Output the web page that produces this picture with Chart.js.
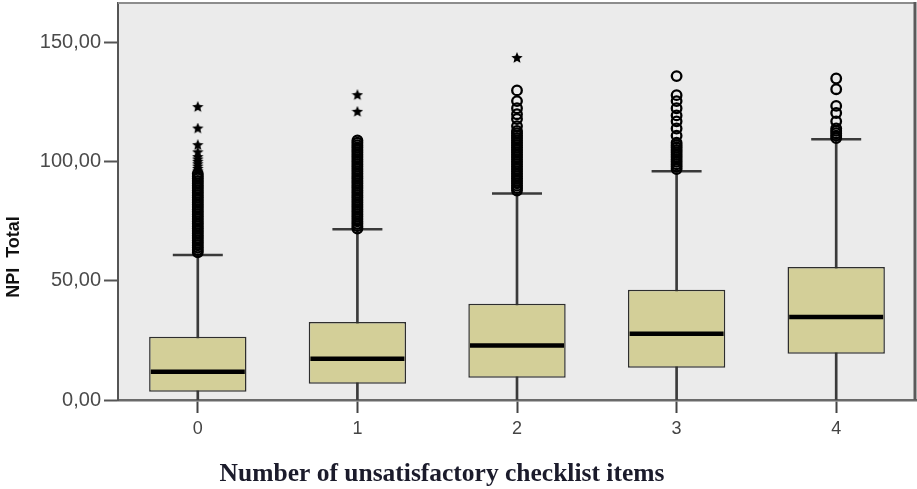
<!DOCTYPE html>
<html>
<head>
<meta charset="utf-8">
<script src="https://cdn.jsdelivr.net/npm/chart.js@4/dist/chart.umd.min.js"></script>
<style>
  html, body { margin: 0; padding: 0; background: #ffffff; }
  #c { display: block; }
</style>
</head>
<body>
<canvas id="c" width="917" height="489"></canvas>
<script>
// Number of unsatisfactory checklist items (x categories)
const categories = ['0', '1', '2', '3', '4'];
const yTicks = [0, 50, 100, 150];

// Five-number summaries of NPI Total per category
const whiskerLow  = [0, 0, 0, 0, 0];
const q1          = [3.5, 6.8, 9.3, 13.5, 19.4];
const median      = [11.9, 17.3, 22.9, 27.8, 34.8];
const q3          = [26.6, 32.7, 40.4, 46.3, 55.8];
const whiskerHigh = [60.9, 71.7, 86.7, 96.1, 109.5];

// Outliers (circles) and extreme values (stars) per category
const outliers0 = [62, 63, 64, 65, 66, 67, 68, 69, 70, 71, 72, 73, 74, 75, 76, 77, 78, 79, 80, 81, 82, 83, 84, 85, 86, 87, 88, 89, 90, 91, 92, 93, 94, 95];
const extremes0 = [96, 97, 98, 99, 100, 101, 102, 104, 107, 114, 123];
const outliers1 = [72, 73, 74, 75, 76, 77, 78, 79, 80, 81, 82, 83, 84, 85, 86, 87, 88, 89, 90, 91, 92, 93, 94, 95, 96, 97, 98, 99, 100, 101, 102, 103, 104, 105, 106, 107, 108, 109];
const extremes1 = [121, 128];
const outliers2 = [88, 89, 90, 91, 92, 93, 94, 95, 96, 97, 98, 99, 100, 101, 102, 103, 104, 105, 106, 107, 108, 109, 110, 111, 112, 113, 115, 118, 120, 122.5, 125.5, 130];
const extremes2 = [143.6];
const outliers3 = [97, 98, 99, 100, 101, 102, 103, 104, 105, 106, 107, 108, 111, 114, 117, 119.5, 122.5, 125.5, 128, 136];
const outliers4 = [110, 111, 112, 113, 114, 117, 120.5, 123.5, 130.5, 135];

const yMin = 0;
const yMax = 166.7;

const pts = (cat, vals) => vals.map(v => ({ x: cat, y: v }));
const circlePoints = [].concat(
  pts('0', outliers0), pts('1', outliers1), pts('2', outliers2),
  pts('3', outliers3), pts('4', outliers4)
);
const starPoints = [].concat(pts('0', extremes0), pts('1', extremes1), pts('2', extremes2));

// Filled five-point star used for extreme values
function makeStar(size) {
  const cv = document.createElement('canvas');
  cv.width = size; cv.height = size;
  const g = cv.getContext('2d');
  const cx = size / 2, cy = size / 2, ro = size / 2, ri = ro * 0.45;
  g.beginPath();
  for (let i = 0; i < 10; i++) {
    const r = i % 2 === 0 ? ro : ri;
    const a = -Math.PI / 2 + i * Math.PI / 5;
    const px = cx + r * Math.cos(a), py = cy + r * Math.sin(a);
    if (i === 0) g.moveTo(px, py); else g.lineTo(px, py);
  }
  g.closePath();
  g.fillStyle = '#000';
  g.fill();
  return cv;
}
const starImg = makeStar(12);

const frame = {
  id: 'frame',
  beforeDraw(chart) {
    const { ctx, chartArea: a } = chart;
    ctx.save();
    ctx.fillStyle = '#ebebeb';
    ctx.fillRect(a.left, a.top, a.right - a.left, a.bottom - a.top);
    ctx.restore();
  },
  afterDraw(chart) {
    const { ctx, chartArea: a } = chart;
    ctx.save();
    ctx.strokeStyle = '#8c8c8c';
    ctx.lineWidth = 2;
    ctx.beginPath();
    ctx.moveTo(a.left, a.top);
    ctx.lineTo(a.right, a.top);
    ctx.stroke();
    ctx.strokeStyle = '#5a5a5a';
    ctx.lineWidth = 3;
    ctx.beginPath();
    ctx.moveTo(a.right - 1, a.top - 1);
    ctx.lineTo(a.right - 1, a.bottom);
    ctx.stroke();

    // axis titles
    ctx.fillStyle = '#111';
    ctx.textAlign = 'center';
    ctx.textBaseline = 'middle';
    ctx.font = 'bold 18px "Liberation Sans", Arial, sans-serif';
    ctx.save();
    ctx.translate(14, 257);
    ctx.rotate(-Math.PI / 2);
    ctx.fillText('NPI  Total', 0, 0);
    ctx.restore();

    ctx.fillStyle = '#1b1b2b';
    ctx.font = 'bold 25.5px "Liberation Serif", "Times New Roman", serif';
    ctx.fillText('Number of unsatisfactory checklist items', 442, 474);
    ctx.restore();
  }
};

new Chart(document.getElementById('c'), {
  data: {
    labels: categories,
    datasets: [
      {
        type: 'bar',
        data: whiskerLow.map((v, i) => [v, whiskerHigh[i]]),
        backgroundColor: '#3a3a3a',
        barThickness: 2,
        grouped: false,
        order: 5
      },
      {
        type: 'bar',
        data: q1.map((v, i) => [v, q3[i]]),
        backgroundColor: '#d3cf98',
        borderColor: '#2e2e2e',
        borderWidth: 1.5,
        borderSkipped: false,
        barPercentage: 0.61,
        categoryPercentage: 1,
        grouped: false,
        order: 4
      },
      {
        type: 'line',
        data: median,
        showLine: false,
        pointStyle: 'line',
        pointRadius: 47,
        pointBorderWidth: 4.5,
        pointBorderColor: '#000',
        order: 3
      },
      {
        type: 'line',
        data: whiskerHigh,
        showLine: false,
        pointStyle: 'line',
        pointRadius: 25,
        pointBorderWidth: 2.5,
        pointBorderColor: '#3a3a3a',
        order: 3
      },
      {
        type: 'line',
        data: circlePoints,
        showLine: false,
        pointStyle: 'circle',
        pointRadius: 4.8,
        pointBorderWidth: 2.3,
        pointBorderColor: '#000',
        pointBackgroundColor: 'rgba(0,0,0,0)',
        order: 1
      },
      {
        type: 'line',
        data: starPoints,
        showLine: false,
        pointStyle: starImg,
        pointRadius: 6,
        order: 1
      }
    ]
  },
  options: {
    responsive: false,
    animation: false,
    events: [],
    devicePixelRatio: 1,
    layout: { autoPadding: false, padding: { top: 3, right: 1, left: 0, bottom: 0 } },
    plugins: {
      legend: { display: false },
      tooltip: { enabled: false },
      title: { display: false }
    },
    scales: {
      x: {
        type: 'category',
        offset: true,
        grid: {
          offset: false,
          drawOnChartArea: false,
          drawTicks: true,
          tickLength: 13,
          tickColor: '#444',
          tickWidth: 2
        },
        border: { display: true, color: '#6a6a6a', width: 2.5 },
        ticks: {
          color: '#444',
          padding: 5,
          font: { family: '"Liberation Sans", Arial, sans-serif', size: 18 }
        },
        afterFit: s => { s.height = 89; s.paddingLeft = 0; s.paddingRight = 0; }
      },
      y: {
        min: yMin,
        max: yMax,
        afterBuildTicks: s => { s.ticks = yTicks.map(v => ({ value: v })); },
        grid: {
          drawOnChartArea: false,
          drawTicks: true,
          tickLength: 14,
          tickColor: '#555',
          tickWidth: 2
        },
        border: { display: true, color: '#555', width: 2 },
        ticks: {
          color: '#4a4a4a',
          padding: 3,
          font: { family: '"Liberation Sans", Arial, sans-serif', size: 20 },
          callback: v => v.toFixed(2).replace('.', ',')
        },
        afterFit: s => { s.width = 118; s.paddingTop = 0; s.paddingBottom = 0; }
      }
    }
  },
  plugins: [frame]
});
</script>
</body>
</html>
